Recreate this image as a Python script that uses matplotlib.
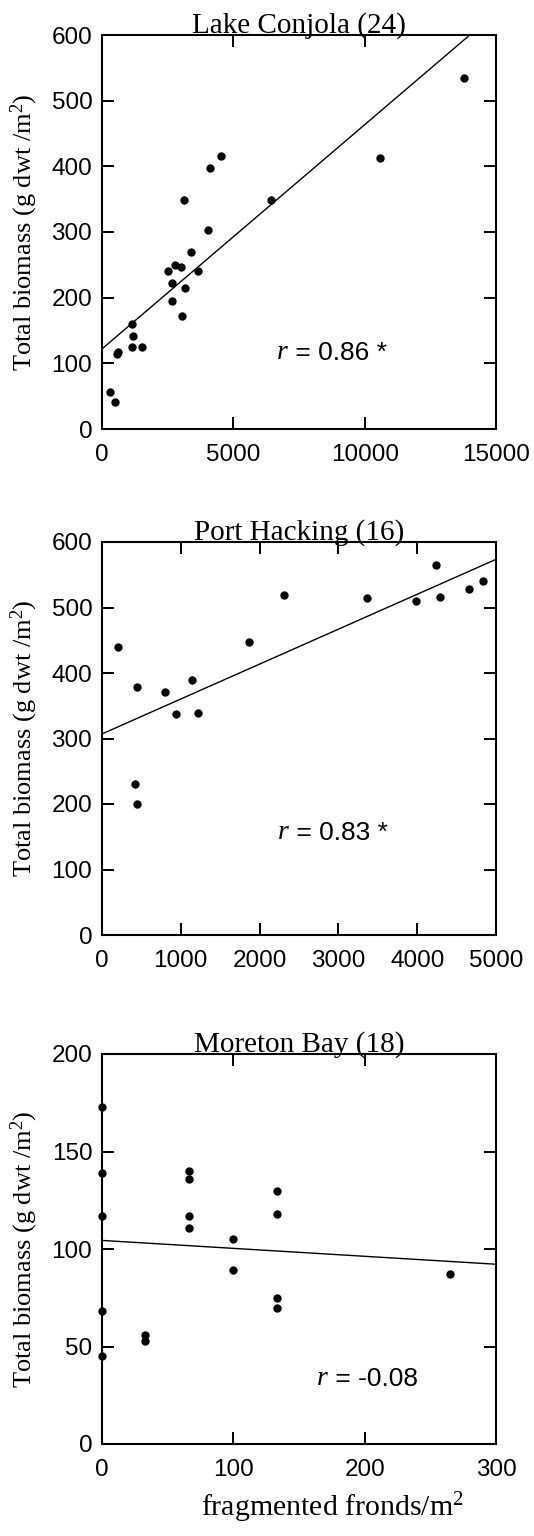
import matplotlib
matplotlib.use("Agg")
import matplotlib.pyplot as plt
import numpy as np

plt.rcParams['mathtext.fontset'] = 'custom'
plt.rcParams['mathtext.rm'] = 'Liberation Serif'
plt.rcParams['mathtext.it'] = 'Liberation Serif:italic'

SERIF = 'Liberation Serif'
SANS = 'Liberation Sans'

# ---- data: fragmented fronds per m2 vs total biomass ----
site_names = ["Lake Conjola (24)", "Port Hacking (16)", "Moreton Bay (18)"]

conjola_x = [303, 492, 556, 619, 1149, 1199, 1124, 1528, 2525, 2664, 2664, 2765,
             2992, 3030, 3106, 3169, 3396, 3662, 4053, 4104, 4533, 6427, 10581, 13788]
conjola_y = [56, 41, 114, 118, 160, 141, 125, 125, 240, 223, 195, 250,
             247, 172, 348, 215, 270, 240, 303, 398, 415, 349, 412, 535]

hacking_x = [203, 424, 445, 445, 805, 945, 1136, 1212, 1864, 2305, 3360, 3979,
             4237, 4292, 4653, 4839]
hacking_y = [439, 231, 378, 200, 371, 337, 389, 339, 448, 519, 514, 510,
             565, 516, 528, 541]

moreton_x = [0, 0, 0, 0, 0, 33, 33, 66, 66, 66, 66, 100, 100, 133, 133, 133, 133, 265]
moreton_y = [173, 139, 117, 68, 45, 56, 53, 140, 136, 117, 111, 105, 89,
             130, 118, 75, 70, 87]

# regression lines: (intercept, slope)
conjola_fit = (122.0, 0.03414)
hacking_fit = (307.0, 0.0533)
moreton_fit = (104.4, -0.0407)

r_labels = ["0.86 *", "0.83 *", "-0.08"]

x_limits = [(0, 15000), (0, 5000), (0, 300)]
y_limits = [(0, 600), (0, 600), (0, 200)]
x_ticks = [[0, 5000, 10000, 15000], [0, 1000, 2000, 3000, 4000, 5000], [0, 100, 200, 300]]
y_ticks = [[0, 100, 200, 300, 400, 500, 600], [0, 100, 200, 300, 400, 500, 600],
           [0, 50, 100, 150, 200]]

panels = [
    (conjola_x, conjola_y, conjola_fit),
    (hacking_x, hacking_y, hacking_fit),
    (moreton_x, moreton_y, moreton_fit),
]

# ---- layout (pixel boxes of each axes) ----
W, H = 534, 1536
boxes = [(102, 35, 496, 429), (102, 542, 496, 935), (102, 1054, 496, 1444)]
r_pos = [(0.444, 0.195), (0.447, 0.26), (0.546, 0.169)]

fig = plt.figure(figsize=(W / 100, H / 100), dpi=100)
fig.patch.set_facecolor('white')

for i, ((xs, ys, fit), box) in enumerate(zip(panels, boxes)):
    l, t, r, b = box
    ax = fig.add_axes([l / W, 1 - b / H, (r - l) / W, (b - t) / H])
    ax.set_xlim(*x_limits[i])
    ax.set_ylim(*y_limits[i])

    ax.plot(xs, ys, 'o', color='black', ms=5, clip_on=False, zorder=3)

    xx = np.array(x_limits[i], dtype=float)
    ax.plot(xx, fit[0] + fit[1] * xx, color='black', lw=1.0, zorder=2)

    ax.set_xticks(x_ticks[i])
    ax.set_yticks(y_ticks[i])
    ax.tick_params(direction='in', length=8.5, width=1.4, top=True, right=True,
                   labelsize=17.5)
    ax.tick_params(axis='x', pad=11)
    ax.tick_params(axis='y', pad=7)
    for lab in ax.get_xticklabels() + ax.get_yticklabels():
        lab.set_fontfamily(SANS)
    for sp in ax.spines.values():
        sp.set_linewidth(1.5)

    ax.set_title(site_names[i], fontfamily=SERIF, fontsize=21, pad=2)

    fig.text(24 / W, 1 - ((t + b) / 2) / H, r"Total biomass (g dwt /m$^2$)",
             rotation=90, ha='center', va='center', fontfamily=SERIF, fontsize=19)

    rx, ry = r_pos[i]
    t1 = ax.text(rx, ry, "r", transform=ax.transAxes, fontfamily=SERIF,
                 fontstyle='italic', fontsize=20, ha='left', va='center')
    ax.annotate(" = " + r_labels[i], xy=(1, 0), xycoords=t1, ha='left', va='bottom',
                fontfamily=SANS, fontsize=19)

fig.text(332 / W, 1 - 1508 / H, r"fragmented fronds/m$^2$", ha='center', va='center',
         fontfamily=SERIF, fontsize=21.5)

fig.savefig("out.png", dpi=100, facecolor='white')
